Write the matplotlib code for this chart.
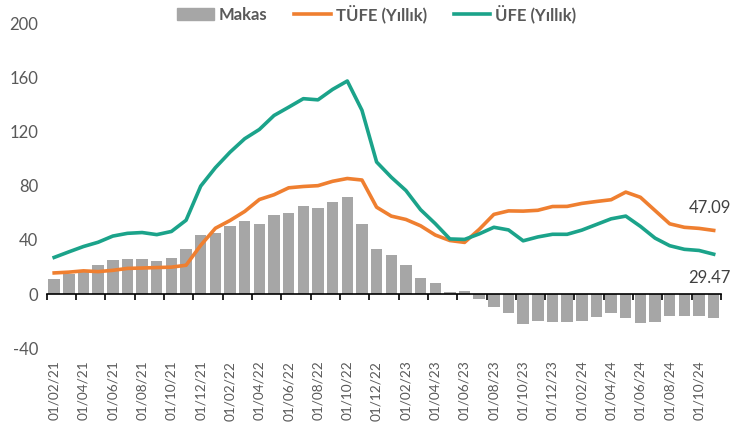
import matplotlib
matplotlib.use("Agg")
import matplotlib.pyplot as plt
from matplotlib.patches import Patch
from matplotlib.lines import Line2D

plt.rcParams['font.family'] = ['Lato', 'DejaVu Sans']
plt.rcParams['axes.unicode_minus'] = False

# monthly data, 01/02/21 .. 01/11/24
months = ['01/02/21', '01/03/21', '01/04/21', '01/05/21', '01/06/21', '01/07/21',
          '01/08/21', '01/09/21', '01/10/21', '01/11/21', '01/12/21',
          '01/01/22', '01/02/22', '01/03/22', '01/04/22', '01/05/22', '01/06/22',
          '01/07/22', '01/08/22', '01/09/22', '01/10/22', '01/11/22', '01/12/22',
          '01/01/23', '01/02/23', '01/03/23', '01/04/23', '01/05/23', '01/06/23',
          '01/07/23', '01/08/23', '01/09/23', '01/10/23', '01/11/23', '01/12/23',
          '01/01/24', '01/02/24', '01/03/24', '01/04/24', '01/05/24', '01/06/24',
          '01/07/24', '01/08/24', '01/09/24', '01/10/24', '01/11/24']

tufe = [15.61, 16.19, 17.14, 16.59, 17.53, 18.95, 19.25, 19.58, 19.89, 21.31, 36.08,
        48.69, 54.44, 61.14, 69.97, 73.50, 78.62, 79.60, 80.21, 83.45, 85.51, 84.39, 64.27,
        57.68, 55.18, 50.51, 43.68, 39.59, 38.21, 47.83, 58.94, 61.53, 61.36, 61.98, 64.77,
        64.86, 67.07, 68.50, 69.80, 75.45, 71.60, 61.78, 51.97, 49.38, 48.58, 47.09]

ufe = [27.09, 31.20, 35.17, 38.33, 42.89, 44.92, 45.52, 43.96, 46.31, 54.62, 79.89,
       93.53, 105.01, 114.97, 121.82, 132.16, 138.31, 144.61, 143.75, 151.50, 157.69, 136.02, 97.72,
       86.46, 76.61, 62.43, 52.11, 40.76, 40.42, 44.50, 49.41, 47.44, 39.39, 42.25, 44.22,
       44.20, 47.29, 51.47, 55.66, 57.68, 50.09, 41.37, 35.75, 33.09, 32.24, 29.47]

makas = [11.48, 15.01, 18.03, 21.74, 25.36, 25.97, 26.27, 24.38, 26.42, 33.31, 43.81,
         44.84, 50.57, 53.83, 51.85, 58.66, 59.69, 65.01, 63.54, 68.05, 72.18, 51.63, 33.45,
         28.78, 21.43, 11.92, 8.43, 1.17, 2.21, -3.33, -9.53, -14.09, -21.97, -19.73, -20.55,
         -20.66, -19.78, -17.03, -14.14, -17.77, -21.51, -20.41, -16.22, -16.29, -16.34, -17.62]

yticks = [-40, 0, 40, 80, 120, 160, 200]

c_bar = '#a6a6a6'
c_tufe = '#ef7f30'
c_ufe = '#1ba38a'
c_text = '#595959'

fig = plt.figure(figsize=(7.32, 4.26), dpi=100)
ax = fig.add_axes([0.064, 0.183, 0.921, 0.761])

x = list(range(len(months)))
ax.bar(x, makas, width=0.78, color=c_bar, zorder=1)
ax.plot(x, tufe, color=c_tufe, lw=2.6, zorder=3, solid_joinstyle='round')
ax.plot(x, ufe, color=c_ufe, lw=2.6, zorder=3, solid_joinstyle='round')

ax.set_xlim(-0.5, len(months) - 0.5)
ax.set_ylim(-40, 200)
ax.set_yticks(yticks)
ax.tick_params(axis='y', length=0, labelsize=12, labelcolor=c_text, pad=6)

for s in ['top', 'right', 'left']:
    ax.spines[s].set_visible(False)
ax.spines['bottom'].set_position(('data', 0))
ax.spines['bottom'].set_color('black')
ax.spines['bottom'].set_linewidth(1.2)

ax.set_xticks(x[::2])
ax.set_xticklabels(months[::2], rotation=90)
ax.set_xticks([i - 0.5 for i in range(0, len(months) + 1, 2)], minor=True)
ax.tick_params(axis='x', which='major', length=0, pad=48, labelsize=9.8, labelcolor=c_text)
ax.tick_params(axis='x', which='minor', length=4, width=1.2, direction='out', color='black')

# end-of-series labels
ax.annotate(f'{tufe[-1]:.2f}', (x[-1], tufe[-1]), xytext=(-3, 16), textcoords='offset points',
            ha='center', va='center', fontsize=12, color='#404040')
ax.annotate(f'{ufe[-1]:.2f}', (x[-1], ufe[-1]), xytext=(-3, -17), textcoords='offset points',
            ha='center', va='center', fontsize=12, color='#404040')

handles = [Patch(color=c_bar), Line2D([], [], color=c_tufe, lw=2.6),
           Line2D([], [], color=c_ufe, lw=2.6)]
labels = ['Makas', 'TÜFE (Yıllık)', 'ÜFE (Yıllık)']
leg = fig.legend(handles, labels, loc='center', bbox_to_anchor=(0.515, 0.968), ncol=3,
                 frameon=False, handlelength=2.2, handletextpad=0.3, columnspacing=1.6,
                 prop={'weight': 'bold', 'size': 12})
for t in leg.get_texts():
    t.set_color(c_text)

fig.savefig('out.png', dpi=100)
